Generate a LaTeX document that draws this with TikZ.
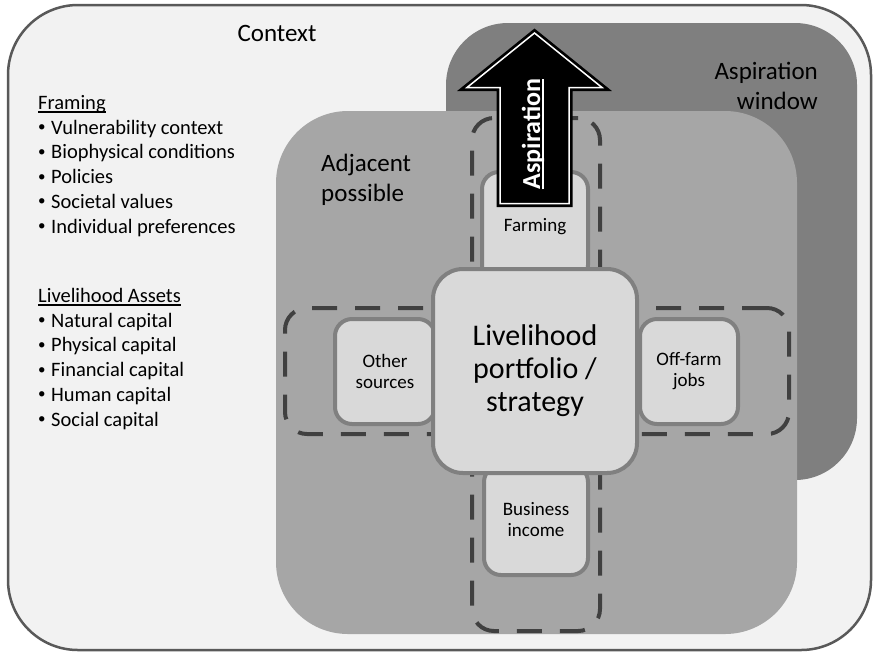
\documentclass[tikz,border=0pt]{standalone}
\usepackage{fontspec}
\setmainfont{Carlito}

\definecolor{ctxfill}{HTML}{F2F2F2}
\definecolor{ctxline}{HTML}{595959}
\definecolor{winfill}{HTML}{7F7F7F}
\definecolor{adjfill}{HTML}{A6A6A6}
\definecolor{boxfill}{HTML}{D9D9D9}
\definecolor{boxline}{HTML}{808080}
\definecolor{dashline}{HTML}{404040}

\newcommand\ulword[1]{\setbox0\hbox{#1}\rlap{\rule[-3.5pt]{\wd0}{1.4pt}}\box0}
\newcommand\bul{\makebox[14pt][l]{\hspace{1pt}\raisebox{2.5pt}{\fontsize{15}{15}\selectfont •}}}

\tikzset{
  panel/.style={inner sep=0pt, outer sep=0pt},
  srcbox/.style={draw=boxline, fill=boxfill, line width=4pt, rounded corners=17pt,
    inner sep=0pt, align=center, font=\fontsize{19}{21}\selectfont},
  dashbox/.style={draw=dashline, line width=4pt, dash pattern=on 25pt off 18pt,
    rounded corners=22pt, inner sep=0pt},
  bigtxt/.style={inner sep=0pt, font=\fontsize{25}{30}\selectfont},
  listtxt/.style={anchor=base west, inner sep=0pt, font=\fontsize{20.5}{24.8}\selectfont}
}

\begin{document}
\begin{tikzpicture}[x=1pt,y=-1pt]
  \useasboundingbox (0,0) rectangle (874,657);

  % background panels
  \node[panel, draw=ctxline, fill=ctxfill, line width=2.5pt, rounded corners=70pt,
    minimum width=863pt, minimum height=645pt] (context) at (439.5,327.5) {};
  \node[panel, fill=winfill, rounded corners=62pt,
    minimum width=411pt, minimum height=457pt] (window) at (651.5,251.5) {};
  \node[panel, fill=adjfill, rounded corners=72pt,
    minimum width=521pt, minimum height=523pt] (adjacent) at (536.5,372.5) {};

  % panel labels
  \node[bigtxt] (contextlbl) at (277,33) {Context};
  \node[bigtxt, anchor=east, align=right] (windowlbl) at (818,86) {Aspiration\\window};
  \node[bigtxt, anchor=west, align=left] (adjacentlbl) at (321,180) {Adjacent\\possible};

  % dashed groups
  \node[dashbox, minimum width=128pt, minimum height=513pt] (vgroup) at (536,374.5) {};
  \node[dashbox, minimum width=504pt, minimum height=126pt] (hgroup) at (537,371) {};

  % income sources
  \node[srcbox, minimum width=106pt, minimum height=110pt] (farming) at (535,227) {Farming};
  \node[srcbox, minimum width=100pt, minimum height=105pt] (other) at (385,371.5) {Other\\sources};
  \node[srcbox, minimum width=98pt, minimum height=105pt] (offfarm) at (689,371.5) {Off-farm\\jobs};
  \node[srcbox, minimum width=104pt, minimum height=110pt] (business) at (536,520) {Business\\income};

  % portfolio
  \node[srcbox, rounded corners=30pt, minimum width=204pt, minimum height=204pt,
    font=\fontsize{30}{33}\selectfont] (portfolio) at (535,371) {Livelihood\\portfolio /\\strategy};

  % aspiration arrow
  \coordinate (asptip) at (534.5,33);
  \draw[white, line width=1.5pt, line join=miter,
    preaction={fill=black, draw=black, line width=7pt}]
    (asptip) -- ++(67.5,54.5) -- ++(-33,0) -- ++(0,116) -- ++(-69,0)
    -- ++(0,-116) -- ++(-33,0) -- cycle;
  \node[rotate=90, text=white, inner sep=0pt,
    font=\bfseries\fontsize{26}{26}\selectfont] (asplbl) at (533,134) {\ulword{Aspiration}};

  % framing list
  \node[listtxt] (fr0) at (38,109) {\ulword{Framing}};
  \node[listtxt] (fr1) at (37,134) {\bul Vulnerability context};
  \node[listtxt] (fr2) at (37,158.8) {\bul Biophysical conditions};
  \node[listtxt] (fr3) at (37,183.6) {\bul Policies};
  \node[listtxt] (fr4) at (37,208.4) {\bul Societal values};
  \node[listtxt] (fr5) at (37,233.2) {\bul Individual preferences};

  % assets list
  \node[listtxt] (la0) at (38,302) {\ulword{Livelihood Assets}};
  \node[listtxt] (la1) at (37,327) {\bul Natural capital};
  \node[listtxt] (la2) at (37,351.8) {\bul Physical capital};
  \node[listtxt] (la3) at (37,376.6) {\bul Financial capital};
  \node[listtxt] (la4) at (37,401.4) {\bul Human capital};
  \node[listtxt] (la5) at (37,426.2) {\bul Social capital};
\end{tikzpicture}
\end{document}
